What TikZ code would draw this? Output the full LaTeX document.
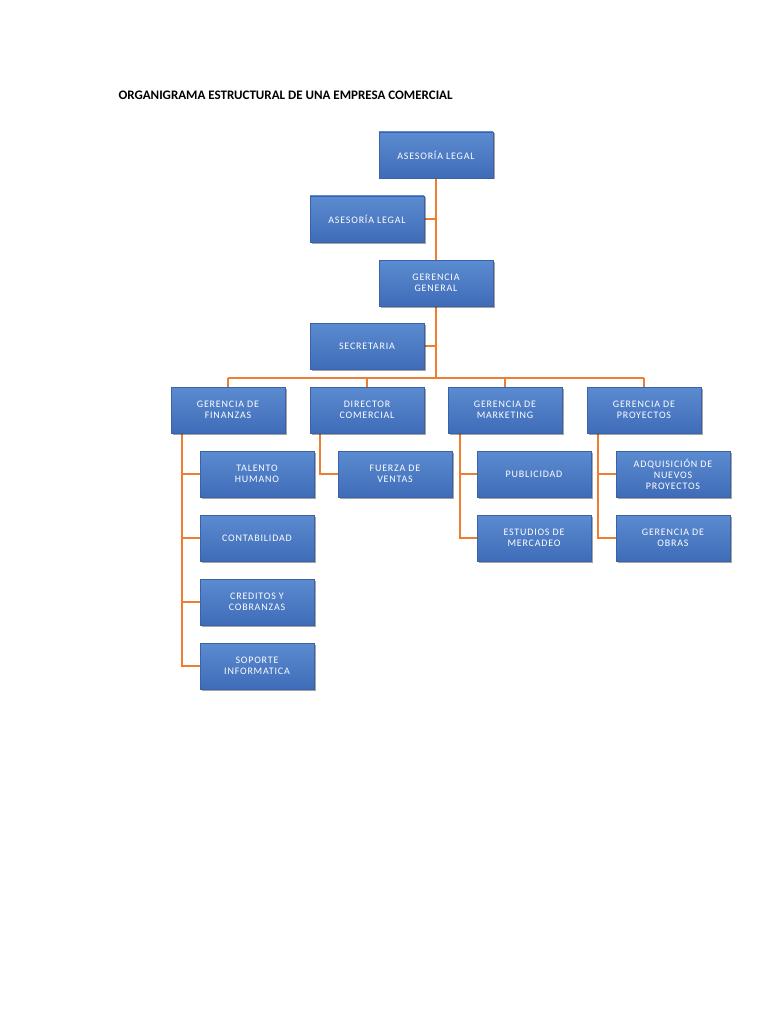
\documentclass[tikz,border=0pt]{standalone}
\usepackage{fontspec}
\setmainfont{Carlito}
\usetikzlibrary{shadows}
\definecolor{bxtop}{HTML}{5B8BD0}
\definecolor{bxbot}{HTML}{3F6CB8}
\definecolor{bxedge}{HTML}{3A62A8}
\definecolor{ln}{HTML}{ED7D31}
\tikzset{
 box/.style={draw=bxedge,line width=0.5pt,top color=bxtop,bottom color=bxbot,minimum width=114pt,minimum height=46pt,inner sep=2pt,text=white,align=center,font=\fontsize{10}{11}\selectfont\addfontfeature{LetterSpace=8},drop shadow={shadow xshift=1.5pt,shadow yshift=-1.5pt,fill=black,opacity=0.35}},
 conn/.style={draw=ln,line width=2pt}
}
\begin{document}
\begin{tikzpicture}[x=1pt,y=-1pt]
\useasboundingbox (0,0) rectangle (768,1024);
\node[anchor=west,font=\bfseries\fontsize{13}{15}\selectfont] (title) at (115,95) {ORGANIGRAMA ESTRUCTURAL DE UNA EMPRESA COMERCIAL};
% connectors first
\coordinate (sp) at (436,178);
\coordinate (spb) at (436,378);
\coordinate (bl) at (228,378);
\coordinate (br) at (644,378);
\draw[conn] (sp) -- (spb);
\draw[conn] (bl) -- (br);
\draw[conn] (bl) -- (228,387);
\draw[conn] (367,378) -- (367,387);
\draw[conn] (505,378) -- (505,387);
\draw[conn] (br) -- (644,387);
\draw[conn] (424,219) -- (436,219);
\draw[conn] (424,346) -- (436,346);
\draw[conn] (182,433) -- (182,666) -- (200,666);
\draw[conn] (182,474) -- (200,474);
\draw[conn] (182,538) -- (200,538);
\draw[conn] (182,602) -- (200,602);
\draw[conn] (320,433) -- (320,474) -- (338,474);
\draw[conn] (460,433) -- (460,538) -- (477,538);
\draw[conn] (460,474) -- (477,474);
\draw[conn] (598,433) -- (598,538) -- (616,538);
\draw[conn] (598,474) -- (616,474);
% boxes
\node[box] (a1) at (436,155) {ASESORÍA LEGAL};
\node[box] (a2) at (367,219) {ASESORÍA LEGAL};
\node[box] (gg) at (436,283) {GERENCIA\\GENERAL};
\node[box] (sec) at (367,346) {SECRETARIA};
\node[box] (gf) at (228,410) {GERENCIA DE\\FINANZAS};
\node[box] (dc) at (367,410) {DIRECTOR\\COMERCIAL};
\node[box] (gm) at (505,410) {GERENCIA DE\\MARKETING};
\node[box] (gp) at (644,410) {GERENCIA DE\\PROYECTOS};
\node[box] (th) at (257,474) {TALENTO\\HUMANO};
\node[box] (co) at (257,538) {CONTABILIDAD};
\node[box] (cr) at (257,602) {CREDITOS Y\\COBRANZAS};
\node[box] (si) at (257,666) {SOPORTE\\INFORMATICA};
\node[box] (fv) at (395,474) {FUERZA DE\\VENTAS};
\node[box] (pu) at (534,474) {PUBLICIDAD};
\node[box] (em) at (534,538) {ESTUDIOS DE\\MERCADEO};
\node[box] (an) at (673,474) {ADQUISICIÓN DE\\NUEVOS\\PROYECTOS};
\node[box] (go) at (673,538) {GERENCIA DE\\OBRAS};
\end{tikzpicture}
\end{document}
